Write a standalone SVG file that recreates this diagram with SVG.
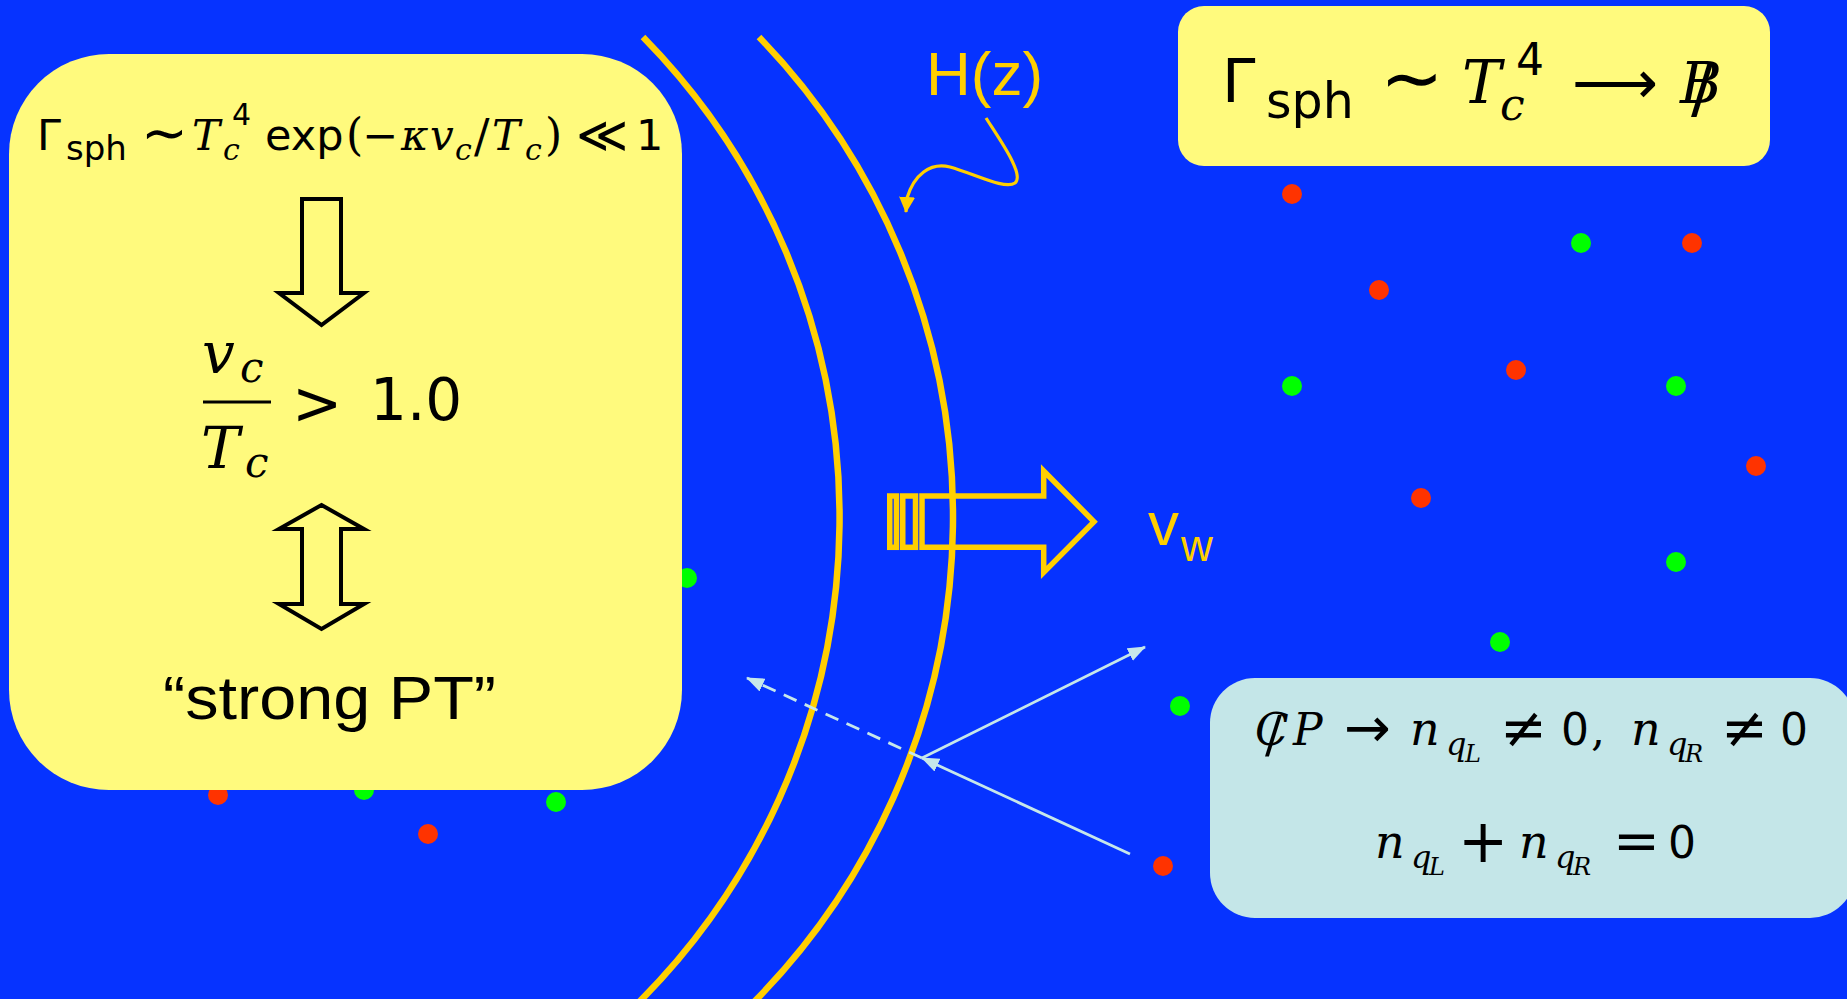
<svg xmlns="http://www.w3.org/2000/svg" width="1847" height="999" viewBox="0 0 1847 999">
<style>
.f{fill:#000}
.s{font-family:"DejaVu Sans","Liberation Sans",sans-serif;font-style:normal}
.m{font-family:"DejaVu Serif","Liberation Serif",serif;font-style:italic}
.u{font-family:"DejaVu Serif","Liberation Serif",serif;font-style:normal}
.gold{fill:#FFCF00;font-family:"Liberation Sans",Arial,sans-serif}
.box{fill:#FFFA7D}
.dotr{fill:#FF3300}
.dotg{fill:#00FF00}
.arc{fill:none;stroke:#FFCF00;stroke-width:6.5}
.conn{fill:none;stroke:#C6E7EA;stroke-width:2.8}
.blk{fill:none;stroke:#000;stroke-width:4;stroke-linejoin:miter}
</style>
<defs>
<marker id="ah" viewBox="0 0 18 14" refX="17" refY="7" markerWidth="18" markerHeight="14" markerUnits="userSpaceOnUse" orient="auto">
<path d="M0,0 L18,7 L0,14 z" fill="#C6E7EA"/>
</marker>
<marker id="ahg" viewBox="0 0 16 16" refX="15" refY="8" markerWidth="16" markerHeight="16" markerUnits="userSpaceOnUse" orient="auto">
<path d="M0,0 L16,8 L0,16 z" fill="#FFCF00"/>
</marker>
</defs>
<rect width="1847" height="999" fill="#0633FF"/>

<g id="particles">
<circle class="dotr" cx="218" cy="795" r="10"/>
<circle class="dotg" cx="364" cy="790" r="10"/>
<circle class="dotg" cx="556" cy="802" r="10"/>
<circle class="dotr" cx="428" cy="834" r="10"/>
<circle class="dotg" cx="687" cy="578" r="10"/>
<circle class="dotr" cx="1292" cy="194" r="10"/>
<circle class="dotg" cx="1581" cy="243" r="10"/>
<circle class="dotr" cx="1692" cy="243" r="10"/>
<circle class="dotr" cx="1379" cy="290" r="10"/>
<circle class="dotg" cx="1292" cy="386" r="10"/>
<circle class="dotr" cx="1516" cy="370" r="10"/>
<circle class="dotg" cx="1676" cy="386" r="10"/>
<circle class="dotr" cx="1756" cy="466" r="10"/>
<circle class="dotr" cx="1421" cy="498" r="10"/>
<circle class="dotg" cx="1676" cy="562" r="10"/>
<circle class="dotg" cx="1500" cy="642" r="10"/>
<circle class="dotg" cx="1180" cy="706" r="10"/>
<circle class="dotr" cx="1163" cy="866" r="10"/>
</g>

<g id="wall">
<path class="arc" d="M643 37 A685.7 685.7 0 0 1 631 1010"/>
<path class="arc" d="M759 37 A690.7 690.7 0 0 1 746 1010"/>
</g>

<g id="left-box">
<rect class="box" x="9" y="54" width="673" height="736" rx="100" ry="100"/>
<text class="f"><tspan class="s" x="37" y="150" font-size="43">Γ</tspan><tspan class="s" x="66" y="160" font-size="34">sph</tspan><tspan class="s" x="141" y="152" font-size="56">∼</tspan><tspan class="m" x="192" y="150" font-size="42">T</tspan><tspan class="s" x="232" y="125" font-size="30">4</tspan><tspan class="m" x="223" y="160" font-size="30">c</tspan><tspan class="s" x="265" y="150" font-size="43">exp</tspan><tspan class="u" x="346" y="150" font-size="44">(</tspan><tspan class="s" x="362" y="150" font-size="43">−</tspan><tspan class="m" x="401" y="150" font-size="42">κ</tspan><tspan class="m" x="430" y="150" font-size="42">v</tspan><tspan class="m" x="455" y="160" font-size="30">c</tspan><tspan class="u" x="474" y="152" font-size="46">/</tspan><tspan class="m" x="492" y="150" font-size="42">T</tspan><tspan class="m" x="525" y="160" font-size="30">c</tspan><tspan class="u" x="545" y="150" font-size="44">)</tspan><tspan class="s" x="576" y="152" font-size="50">≪</tspan><tspan class="s" x="636" y="150" font-size="43">1</tspan></text>

<path class="blk" d="M302 199 H341 V293 H364 L321.5 325 L279 293 H302 Z"/>

<text class="f"><tspan class="m" x="202" y="373" font-size="58">v</tspan><tspan class="m" x="240" y="382" font-size="42">c</tspan><tspan class="m" x="201" y="468" font-size="58">T</tspan><tspan class="m" x="245" y="477" font-size="42">c</tspan><tspan class="s" x="292" y="424" font-size="60">&gt;</tspan><tspan class="s" x="370" y="420" font-size="58">1.0</tspan></text>
<line x1="203" y1="402" x2="271" y2="402" stroke="#000" stroke-width="3"/>

<path class="blk" d="M321.5 505 L364 529 H341 V604 H364 L321.5 629 L279 604 H302 V529 H279 Z"/>

<text x="163" y="719" font-size="62" textLength="333" lengthAdjust="spacingAndGlyphs" style="font-family:'Liberation Sans',Arial,sans-serif;fill:#000">“strong PT”</text>
</g>

<g id="top-right-box">
<rect class="box" x="1178" y="6" width="592" height="160" rx="26" ry="26"/>
<text class="f"><tspan class="s" x="1222" y="102" font-size="60">Γ</tspan><tspan class="s" x="1266" y="118" font-size="49">sph</tspan><tspan class="s" x="1380" y="104" font-size="76">∼</tspan><tspan class="m" x="1462" y="103" font-size="59">T</tspan><tspan class="s" x="1516" y="75" font-size="44">4</tspan><tspan class="m" x="1500" y="120" font-size="44">c</tspan><tspan class="s" x="1572" y="103" font-size="60">⟶</tspan><tspan class="m" x="1680" y="103" font-size="57">B</tspan><tspan class="s" x="1691" y="111" font-size="66">/</tspan></text>
</g>

<g id="bottom-right-box">
<rect x="1210" y="678" width="645" height="240" rx="45" ry="45" fill="#C4E6E8"/>
<text class="f"><tspan class="m" x="1255" y="745" font-size="44">C</tspan><tspan class="u" x="1265" y="752" font-size="50">/</tspan><tspan class="m" x="1293" y="745" font-size="44">P</tspan><tspan class="s" x="1344" y="747" font-size="56">→</tspan><tspan class="m" x="1410" y="745" font-size="46">n</tspan><tspan class="m" x="1446" y="755" font-size="32">q</tspan><tspan class="m" x="1465" y="762" font-size="24">L</tspan><tspan class="s" x="1500" y="747" font-size="56">≠</tspan><tspan class="s" x="1561" y="745" font-size="44">0</tspan><tspan class="u" x="1591" y="745" font-size="44">,</tspan><tspan class="m" x="1631" y="745" font-size="46">n</tspan><tspan class="m" x="1667" y="755" font-size="32">q</tspan><tspan class="m" x="1685" y="762" font-size="24">R</tspan><tspan class="s" x="1721" y="747" font-size="56">≠</tspan><tspan class="s" x="1780" y="745" font-size="44">0</tspan></text>
<text class="f"><tspan class="m" x="1375" y="858" font-size="46">n</tspan><tspan class="m" x="1411" y="868" font-size="32">q</tspan><tspan class="m" x="1429" y="875" font-size="24">L</tspan><tspan class="s" x="1458" y="862" font-size="60">+</tspan><tspan class="m" x="1519" y="858" font-size="46">n</tspan><tspan class="m" x="1555" y="868" font-size="32">q</tspan><tspan class="m" x="1573" y="875" font-size="24">R</tspan><tspan class="s" x="1613" y="860" font-size="56">=</tspan><tspan class="s" x="1668" y="858" font-size="44">0</tspan></text>
</g>

<g id="wall-velocity">
<g fill="none" stroke="#FFCF00" stroke-width="5.5">
<rect x="889.75" y="496" width="6.75" height="51.3"/>
<rect x="902.75" y="496" width="12.75" height="51.3"/>
<path d="M922 496 H1043.7 V471 L1094 521.7 L1043.7 572.4 V547.3 H922 Z" stroke-linejoin="miter"/>
</g>
<text class="gold"><tspan x="1148" y="545" font-size="62">v</tspan><tspan x="1181" y="561" font-size="44">w</tspan></text>
</g>

<g id="label-Hz">
<text class="gold" x="926" y="95" font-size="62">H(z)</text>
</g>

<g id="connectors">
<path d="M986 118 C1000 140 1025 175 1015 183 C1005 190 975 174 950 167 C930 162 914 175 907 198 L906 212" fill="none" stroke="#FFCF00" stroke-width="3.2" marker-end="url(#ahg)"/>
<line class="conn" x1="1130" y1="854" x2="922" y2="758" marker-end="url(#ah)"/>
<line class="conn" x1="922" y1="758" x2="1145" y2="647" marker-end="url(#ah)"/>
<line class="conn" x1="922" y1="758" x2="747" y2="678" stroke-dasharray="14 9" marker-end="url(#ah)"/>
</g>
</svg>
